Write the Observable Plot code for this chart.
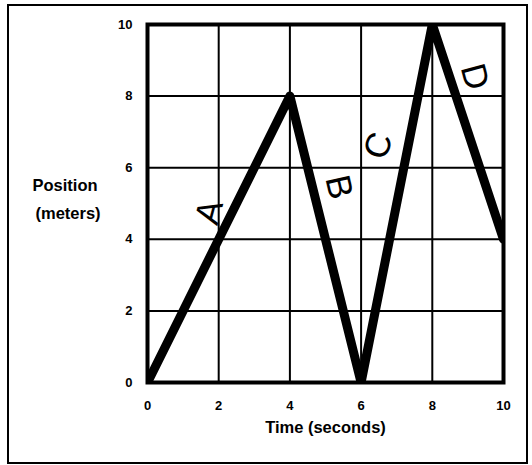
<!DOCTYPE html>
<html>
<head>
<meta charset="utf-8">
<script src="https://cdn.jsdelivr.net/npm/d3@7"></script>
<script src="https://cdn.jsdelivr.net/npm/@observablehq/plot@0.6"></script>
<style>
  html, body { margin: 0; padding: 0; background: #fff; }
  #wrap { position: relative; width: 532px; height: 465px; }
  #border { position: absolute; left: 7px; top: 4px; width: 517px; height: 456px; border: 2px solid #000; pointer-events: none; }
</style>
</head>
<body>
<div id="wrap"><div id="border"></div></div>
<script>
// Data
const times = [0, 4, 6, 8, 10];
const positions = [0, 8, 0, 10, 4];
const segmentLabels = ["A", "B", "C", "D"];
const labelTimes = [1.74, 5.37, 6.49, 9.19];
const labelPositions = [4.76, 5.46, 6.61, 8.54];
const labelAngles = [-75, 77, -70, 75];
const xTicks = [0, 2, 4, 6, 8, 10];
const yTicks = [0, 2, 4, 6, 8, 10];

const points = times.map((t, i) => ({t, p: positions[i]}));
const labels = segmentLabels.map((s, i) => ({s, t: labelTimes[i], p: labelPositions[i], a: labelAngles[i]}));

const font = "'Liberation Sans', Arial, sans-serif";

const chart = Plot.plot({
  width: 532,
  height: 465,
  marginLeft: 147,
  marginRight: 29,
  marginTop: 24,
  marginBottom: 83,
  style: {fontFamily: font, background: "transparent"},
  x: {domain: [0, 10], label: null},
  y: {domain: [0, 10], label: null},
  marks: [
    Plot.ruleX(xTicks, {stroke: "#000", strokeWidth: 2}),
    Plot.ruleY(yTicks, {stroke: "#000", strokeWidth: 2}),
    Plot.frame({stroke: "#000", strokeWidth: 4}),
    Plot.axisX({ticks: xTicks, tickSize: 0, tickPadding: 18, fontSize: 13, fontWeight: "bold", label: null}),
    Plot.axisY({ticks: yTicks, tickSize: 0, tickPadding: 15, fontSize: 13, fontWeight: "bold", label: null}),
    Plot.line(points, {x: "t", y: "p", stroke: "#000", strokeWidth: 9, strokeLinejoin: "round", clip: true}),
    Plot.text(labels, {x: "t", y: "p", text: "s", rotate: "a", fontSize: 35, fill: "#000", fontWeight: "normal"}),
    Plot.text(["Position"], {frameAnchor: "left", textAnchor: "start", dx: -115, dy: -18, fontSize: 16.5, fontWeight: "bold"}),
    Plot.text(["(meters)"], {frameAnchor: "left", textAnchor: "start", dx: -112, dy: 10, fontSize: 16.5, fontWeight: "bold"}),
    Plot.text(["Time (seconds)"], {frameAnchor: "bottom", dy: 50, fontSize: 16.5, fontWeight: "bold"})
  ]
});
chart.style.position = "absolute";
chart.style.left = "0";
chart.style.top = "0";
document.getElementById("wrap").appendChild(chart);
</script>
</body>
</html>
